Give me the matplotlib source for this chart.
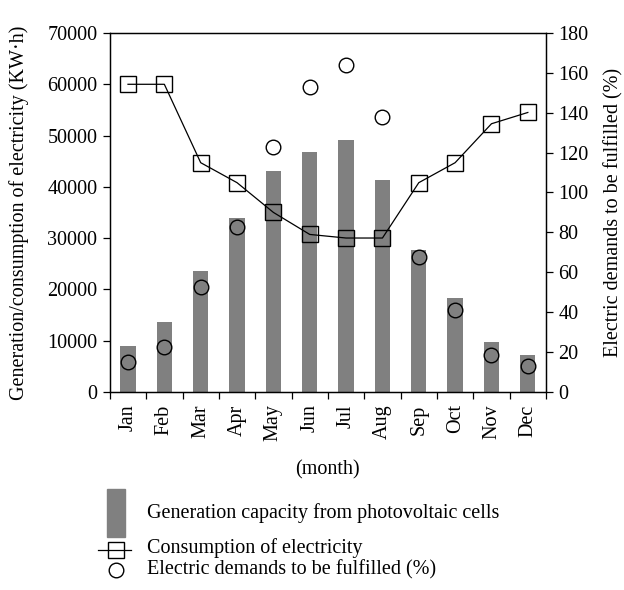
import matplotlib
matplotlib.use("Agg")
import matplotlib.pyplot as plt
from matplotlib.patches import Rectangle
from matplotlib.lines import Line2D
import numpy as np

plt.rcParams["font.family"] = ["Liberation Serif", "DejaVu Serif"]
plt.rcParams["font.size"] = 14.5

months = ["Jan", "Feb", "Mar", "Apr", "May", "Jun", "Jul", "Aug", "Sep", "Oct", "Nov", "Dec"]
# 光伏发电量 (KW·h)
generation = [8900, 13600, 23500, 33900, 43000, 46700, 49100, 41300, 27600, 18300, 9700, 7100]
# 用电量 (KW·h)
consumption = [60000, 60000, 44700, 40800, 35000, 30700, 30000, 30000, 40800, 44700, 52300, 54500]
# 满足率 (%)
fulfilled = [14.7, 22.7, 52.8, 82.7, 123.0, 153.1, 164.0, 137.7, 67.4, 40.8, 18.6, 13.0]

x = np.arange(len(months))

fig = plt.figure(figsize=(6.24, 5.9), dpi=100)
ax = fig.add_axes([0.176, 0.336, 0.699, 0.608])
ax2 = ax.twinx()

ax.bar(x, generation, width=0.42, color="#808080", zorder=1)
ax.plot(x, consumption, color="black", lw=0.9, marker="s", markersize=11,
        markerfacecolor="none", markeredgecolor="black", markeredgewidth=1.0, zorder=3)
ax2.plot(x, fulfilled, ls="none", marker="o", markersize=10.5,
         markerfacecolor="none", markeredgecolor="black", markeredgewidth=1.0)

ax.set_xlim(-0.5, 11.5)
ax.set_ylim(0, 70000)
ax2.set_ylim(0, 180)
ax.set_yticks(range(0, 70001, 10000))
ax2.set_yticks(range(0, 181, 20))

ax.set_xticks(x)
ax.set_xticklabels(months, rotation=90)
ax.set_xticks(np.arange(-0.5, 12, 1), minor=True)
ax.tick_params(axis="x", which="major", length=0, pad=9)
ax.tick_params(axis="x", which="minor", length=5, direction="out", width=0.9)
ax.tick_params(axis="y", length=5, direction="out", width=0.9, pad=4)
ax2.tick_params(axis="y", length=5, direction="out", width=0.9, pad=4)
for a in (ax, ax2):
    for s in a.spines.values():
        s.set_linewidth(0.9)

ax.set_xlabel("(month)", labelpad=14)
ax.set_ylabel("Generation/consumption of electricity (KW·h)", labelpad=13)
ax2.set_ylabel("Electric demands to be fulfilled (%)", labelpad=11)

# 图例
lg = fig.add_axes([0, 0, 1, 0.2])
lg.set_xlim(0, 624)
lg.set_ylim(118, 0)
lg.axis("off")
lg.add_patch(Rectangle((107, 17), 18, 48, color="#808080"))
lg.text(147, 41, "Generation capacity from photovoltaic cells", va="center", ha="left")
lg.add_line(Line2D([98, 131], [78, 78], color="black", lw=0.9))
lg.plot([116], [78], marker="s", markersize=11, markerfacecolor="none",
        markeredgecolor="black", markeredgewidth=1.0)
lg.text(147, 76, "Consumption of electricity", va="center", ha="left")
lg.plot([116], [97.5], marker="o", markersize=10.5, markerfacecolor="none",
        markeredgecolor="black", markeredgewidth=1.0)
lg.text(147, 97.5, "Electric demands to be fulfilled (%)", va="center", ha="left")

fig.savefig("out.png", dpi=100)
